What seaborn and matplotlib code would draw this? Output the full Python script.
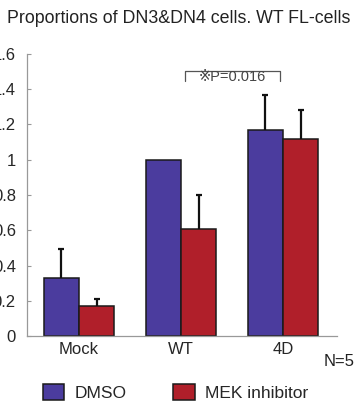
import pandas as pd
import matplotlib
matplotlib.use("Agg")
import matplotlib.pyplot as plt
import seaborn as sns
from matplotlib.patches import Patch

# values
groups = ["Mock", "WT", "4D"]
treatments = ["DMSO", "MEK inhibitor"]
dmso_mean = [0.33, 1.00, 1.17]
dmso_err = [0.165, 0.0, 0.195]
mek_mean = [0.17, 0.605, 1.12]
mek_err = [0.04, 0.195, 0.16]
yticks = [0, 0.2, 0.4, 0.6, 0.8, 1, 1.2, 1.4, 1.6]
ytick_labels = ["0", "0.2", "0.4", "0.6", "0.8", "1", "1.2", "1.4", "1.6"]

colors = {"DMSO": "#4b3c9e", "MEK inhibitor": "#b01f2a"}

df = pd.DataFrame({
    "group": groups * 2,
    "treatment": [treatments[0]] * 3 + [treatments[1]] * 3,
    "value": dmso_mean + mek_mean,
    "err": dmso_err + mek_err,
})

sns.set_style("white")
plt.rcParams["font.family"] = ["Liberation Sans", "DejaVu Sans"]

fig = plt.figure(figsize=(3.58, 4.09), dpi=100)
ax = fig.add_axes([0.0754, 0.178, 0.866, 0.6905])

sns.barplot(data=df, x="group", y="value", hue="treatment", order=groups,
            hue_order=treatments, palette=colors, saturation=1, width=0.69, gap=0,
            edgecolor="#1a1a1a", linewidth=1.1, errorbar=None, legend=False, ax=ax)

# one-sided error bars: stem up from the bar top plus a cap
for p, (_, row) in zip(ax.patches, df.iterrows()):
    if row["err"] > 0:
        x = p.get_x() + p.get_width() / 2
        top = row["value"] + row["err"]
        ax.vlines(x, row["value"], top, color="#111111", lw=1.6, zorder=3)
        ax.hlines(top, x - 0.03, x + 0.03, color="#111111", lw=1.6, zorder=3)

ax.set_ylim(0, 1.6)
ax.set_xlim(-0.51, 2.53)
ax.set_yticks(yticks)
ax.set_yticklabels(ytick_labels)
ax.set_xlabel("")
ax.set_ylabel("")
ax.tick_params(axis="y", direction="in", length=3, width=0.8, color="#999999",
               pad=8, labelsize=12, left=True)
ax.tick_params(axis="x", length=0, pad=4, labelsize=12)
for s in ["top", "right"]:
    ax.spines[s].set_visible(False)
for s in ["left", "bottom"]:
    ax.spines[s].set_color("#999999")
    ax.spines[s].set_linewidth(0.9)

# significance bracket between WT DMSO and 4D DMSO
ax.plot([1.04, 1.04, 1.97, 1.97], [1.445, 1.505, 1.505, 1.445], color="#555555",
        lw=0.9, clip_on=False)
ax.text(1.505, 1.468, "\u203bP=0.016", ha="center", va="center", fontsize=10.5,
        color="#444444")

fig.text(0.5, 0.955, "Proportions of DN3&DN4 cells. WT FL-cells", ha="center",
         va="center", fontsize=12.8, color="#222222")
fig.text(0.99, 0.115, "N=5", ha="right", va="center", fontsize=12, color="#222222")

handles = [Patch(facecolor=colors[t], edgecolor="#1a1a1a", linewidth=1.1) for t in treatments]
fig.legend(handles, treatments, loc="center left", bbox_to_anchor=(0.10, 0.04),
           ncol=2, frameon=False, fontsize=12.5, handlelength=1.25, handleheight=1.0,
           columnspacing=2.65, handletextpad=0.6, borderaxespad=0)

fig.savefig("out.png", dpi=100)
